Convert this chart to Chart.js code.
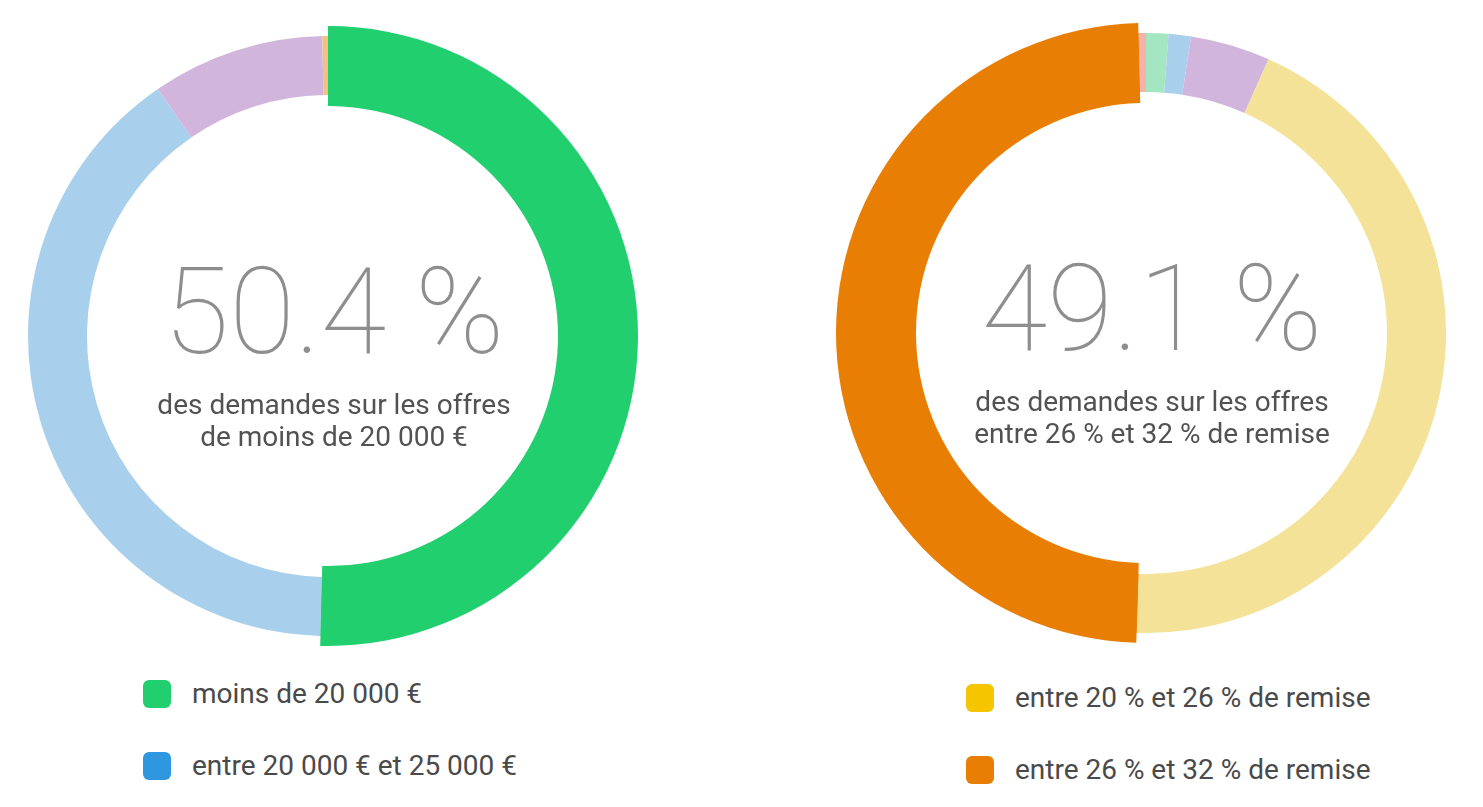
<!DOCTYPE html>
<html>
<head>
<meta charset="utf-8">
<script src="https://cdn.jsdelivr.net/npm/chart.js@4.4.1/dist/chart.umd.min.js"></script>
<style>
  html, body { margin: 0; padding: 0; background: #fff; }
  body { width: 1483px; height: 807px; position: relative; overflow: hidden; font-family: Roboto, "Noto Sans", sans-serif; }
  .ring { position: absolute; }
  .center { position: absolute; text-align: center; width: 420px; }
  .big { font-size: 120px; line-height: 120px; font-weight: 100; color: #8e8e8e; white-space: nowrap; }
  .sub { font-size: 28px; line-height: 32px; color: #525252; margin-top: 17px; }
  .legend { position: absolute; }
  .item { position: absolute; white-space: nowrap; font-size: 28px; color: #4a4a4a; height: 28px; line-height: 28px; }
  .sw { position: absolute; left: 0; top: 0; width: 28px; height: 28px; border-radius: 6px; }
  .lbl { position: absolute; left: 49px; top: 0; }
</style>
</head>
<body>
<script>
// ---- Data: left chart (prix) ----
const leftLabels = ['moins de 20 000 €', 'entre 20 000 € et 25 000 €', 'entre 25 000 € et 30 000 €', 'plus de 30 000 €'];
const leftValues = [50.4, 40.0, 9.3, 0.3];
const leftColors = ['#21CF6E', '#A8D0EC', '#D1B5DD', '#F3C27E'];
const leftLegendColors = ['#21CF6E', '#2E97E0'];
const leftLegendLabels = ['moins de 20 000 €', 'entre 20 000 € et 25 000 €'];
const leftBig = '50.4 %';
const leftSub = ['des demandes sur les offres', 'de moins de 20 000 €'];

// ---- Data: right chart (remise) ----
const rightLabels = ['moins de 8 % de remise', 'entre 8 % et 14 % de remise', 'entre 14 % et 20 % de remise', 'entre 20 % et 26 % de remise', 'entre 26 % et 32 % de remise', 'plus de 32 % de remise'];
const rightValues = [1.2, 1.2, 4.3, 43.8, 49.1, 0.4];
const rightColors = ['#A4E6C1', '#A8CFEC', '#D1B5DD', '#F3E297', '#E87E04', '#F2B3AA'];
const rightLegendColors = ['#F5C600', '#E87E04'];
const rightLegendLabels = ['entre 20 % et 26 % de remise', 'entre 26 % et 32 % de remise'];
const rightBig = '49.1 %';
const rightSub = ['des demandes sur les offres', 'entre 26 % et 32 % de remise'];

// ---- Layout ----
const RING_OUT = 300, RING_IN = 241;   // normal ring
const HI_OUT = 310, HI_IN = 230;       // highlighted slice

function addRing(cx, cy, R, cutR, labels, values, colors, onlyIndex) {
  const div = document.createElement('div');
  div.className = 'ring';
  div.style.left = (cx - R) + 'px';
  div.style.top = (cy - R) + 'px';
  div.style.width = (2 * R) + 'px';
  div.style.height = (2 * R) + 'px';
  const cv = document.createElement('canvas');
  div.appendChild(cv);
  document.body.appendChild(div);
  const bg = colors.map((c, i) => (onlyIndex === null || i === onlyIndex) ? c : 'rgba(0,0,0,0)');
  new Chart(cv, {
    type: 'doughnut',
    data: { labels: labels, datasets: [{ data: values, backgroundColor: bg, borderWidth: 0 }] },
    options: {
      responsive: true, maintainAspectRatio: false, animation: false, events: [],
      radius: '100%', cutout: (cutR / R * 100) + '%',
      layout: { padding: 0 },
      plugins: { legend: { display: false }, tooltip: { enabled: false } }
    }
  });
}

function addCenter(cx, cy, big, sub) {
  const d = document.createElement('div');
  d.className = 'center';
  d.style.left = (cx + 6 - 210) + 'px';
  d.style.top = (cy - 84) + 'px';
  const b = document.createElement('div'); b.className = 'big'; b.textContent = big; d.appendChild(b);
  const s = document.createElement('div'); s.className = 'sub'; s.innerHTML = sub.join('<br>'); d.appendChild(s);
  document.body.appendChild(d);
}

function addLegend(x, y0, labels, colors) {
  labels.forEach((l, i) => {
    const it = document.createElement('div');
    it.className = 'item';
    it.style.left = x + 'px';
    it.style.top = (y0 + i * 71.5) + 'px';
    const sw = document.createElement('div'); sw.className = 'sw'; sw.style.background = colors[i];
    const t = document.createElement('div'); t.className = 'lbl'; t.textContent = l;
    it.appendChild(sw); it.appendChild(t);
    document.body.appendChild(it);
  });
}

// left donut
addRing(328, 336, RING_OUT, RING_IN, leftLabels, leftValues, leftColors, null);
addRing(328, 336, HI_OUT, HI_IN, leftLabels, leftValues, leftColors, 0);
addCenter(328, 336, leftBig, leftSub);
addLegend(143, 680, leftLegendLabels, leftLegendColors);

// right donut
addRing(1146, 332.5, RING_OUT, RING_IN, rightLabels, rightValues, rightColors, null);
addRing(1146, 332.5, HI_OUT, HI_IN, rightLabels, rightValues, rightColors, 4);
addCenter(1146, 332.5, rightBig, rightSub);
addLegend(966, 684, rightLegendLabels, rightLegendColors);
</script>
</body>
</html>
